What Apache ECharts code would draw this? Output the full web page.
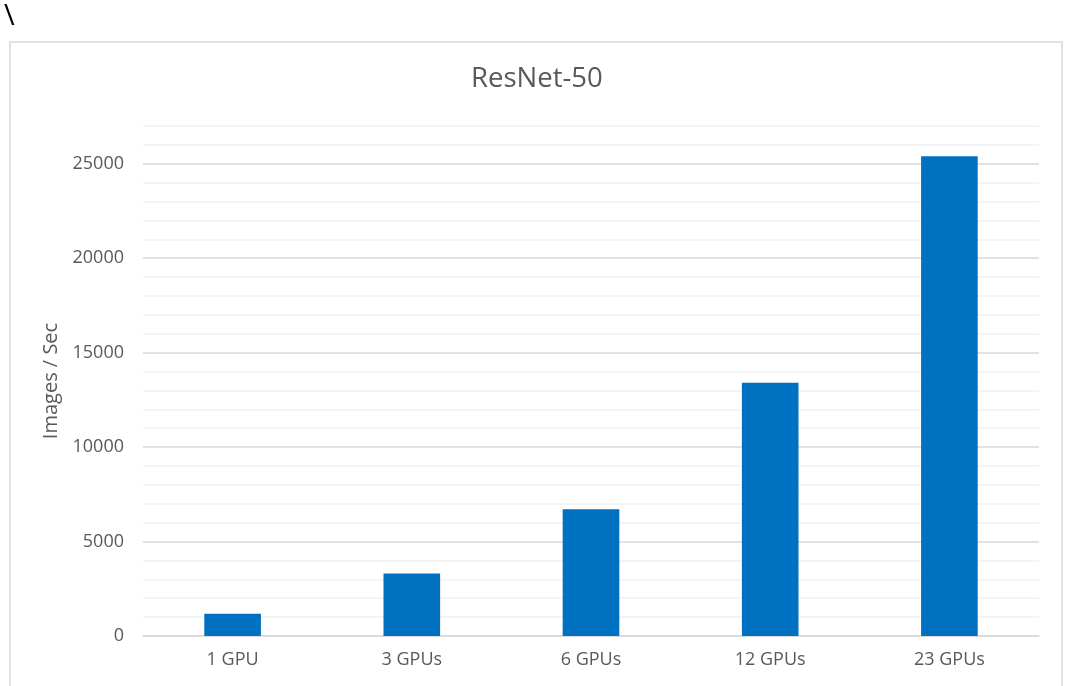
<!DOCTYPE html>
<html>
<head>
<meta charset="utf-8">
<script src="https://cdn.jsdelivr.net/npm/echarts@6/dist/echarts.min.js"></script>
<style>
html,body{margin:0;padding:0;background:#fff;}
#chart{width:1065px;height:686px;}
</style>
</head>
<body>
<div id="chart"></div>
<script>
const categories = ['1 GPU', '3 GPUs', '6 GPUs', '12 GPUs', '23 GPUs'];
const imagesPerSec = [1180, 3310, 6710, 13410, 25400];
const titleText = 'ResNet-50';
const yAxisName = 'Images / Sec';

const FONT = '"Open Sans", sans-serif';
const chart = echarts.init(document.getElementById('chart'), null, {renderer: 'canvas'});
chart.setOption({
  animation: false,
  backgroundColor: '#ffffff',
  title: {
    text: titleText,
    left: 466,
    top: 60,
    textStyle: {fontFamily: FONT, fontSize: 27.5, fontWeight: 'normal', color: '#595959'}
  },
  graphic: [
    {type: 'rect', shape: {x: 10, y: 42, width: 1052, height: 700},
     style: {fill: 'none', stroke: '#d9d9d9', lineWidth: 1.5}, silent: true, z: -1},
    {type: 'text', left: 4, top: 2,
     style: {text: '\\', fontSize: 29, fontFamily: FONT, fill: '#000'}}
  ],
  grid: {left: 143, right: 26, top: 126, bottom: 50},
  xAxis: {
    type: 'category',
    data: categories,
    axisTick: {show: false},
    axisLine: {lineStyle: {color: '#d9d9d9', width: 1.5}},
    axisLabel: {fontFamily: FONT, fontSize: 18, color: '#595959', margin: 15}
  },
  yAxis: {
    type: 'value',
    min: 0,
    max: 27000,
    interval: 1000,
    name: yAxisName,
    nameLocation: 'middle',
    nameGap: 79,
    nameRotate: 90,
    nameTextStyle: {fontFamily: FONT, fontSize: 20, color: '#595959'},
    axisLine: {show: false},
    axisTick: {show: false},
    axisLabel: {
      fontFamily: FONT, fontSize: 18, color: '#595959', margin: 19,
      formatter: v => (v % 5000 === 0 ? String(v) : '')
    },
    splitLine: {lineStyle: {color: ['#d9d9d9', '#f0f0f0', '#f0f0f0', '#f0f0f0', '#f0f0f0'], width: 1.5}}
  },
  series: [{
    type: 'bar',
    data: imagesPerSec,
    barWidth: '31.6%',
    itemStyle: {color: '#0070c0'}
  }]
});
</script>
</body>
</html>
